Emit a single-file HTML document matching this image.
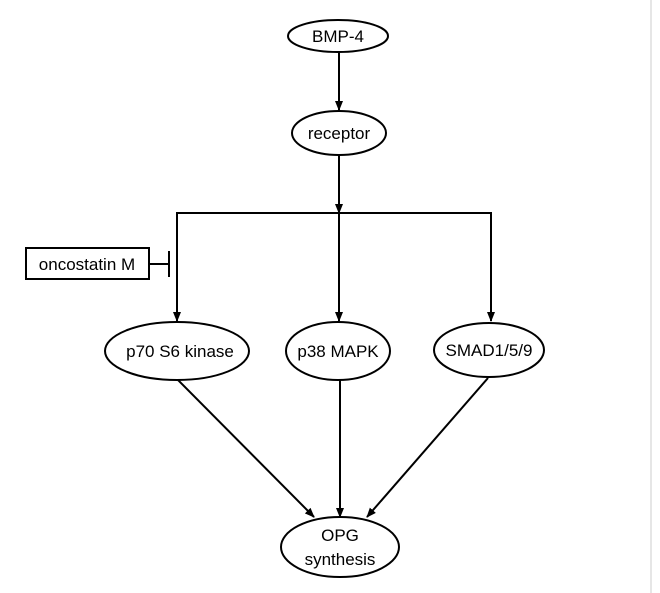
<!DOCTYPE html>
<html><head><style>html,body{margin:0;padding:0;background:#fff}svg{display:block}</style></head><body>
<svg width="660" height="593" viewBox="0 0 660 593" xmlns="http://www.w3.org/2000/svg" font-family="Liberation Sans, sans-serif" font-size="17" fill="none" stroke="#000" stroke-width="2">
<defs><marker id="a" markerWidth="10" markerHeight="10" refX="9" refY="5" orient="auto" markerUnits="userSpaceOnUse"><path d="M0,1 L10,5 L0,9 Z" fill="#000" stroke="none"/></marker></defs>
<line x1="651" y1="0" x2="651" y2="593" stroke="#ddd" stroke-width="1.5"/>
<ellipse cx="338" cy="36" rx="50" ry="16"/>
<ellipse cx="339" cy="133" rx="47" ry="22"/>
<line x1="339" y1="52" x2="339" y2="110" marker-end="url(#a)"/>
<line x1="339" y1="155" x2="339" y2="213" marker-end="url(#a)"/>
<polyline points="177,321 177,213 491,213 491,321" marker-end="url(#a)"/>
<line x1="177" y1="310" x2="177" y2="321" marker-end="url(#a)"/>
<line x1="339" y1="213" x2="339" y2="321" marker-end="url(#a)"/>
<rect x="26" y="248" width="123" height="31"/>
<line x1="149" y1="264" x2="169" y2="264"/>
<line x1="169" y1="251" x2="169" y2="277"/>
<ellipse cx="177" cy="351" rx="72" ry="29"/>
<ellipse cx="338" cy="351" rx="52" ry="29"/>
<ellipse cx="489" cy="350" rx="55" ry="27"/>
<ellipse cx="340" cy="547" rx="59" ry="30"/>
<line x1="178" y1="380" x2="314" y2="517" marker-end="url(#a)"/>
<line x1="340" y1="380" x2="340" y2="517" marker-end="url(#a)"/>
<line x1="488" y1="378" x2="367" y2="517" marker-end="url(#a)"/>
<g fill="#000" stroke="none" text-anchor="middle">
<text x="338" y="42">BMP-4</text>
<text x="339" y="139">receptor</text>
<text x="87" y="270">oncostatin M</text>
<text x="180" y="357">p70 S6 kinase</text>
<text x="338" y="357">p38 MAPK</text>
<text x="489" y="356">SMAD1/5/9</text>
<text x="340" y="541">OPG</text>
<text x="340" y="565">synthesis</text>
</g>
</svg>
</body></html>
